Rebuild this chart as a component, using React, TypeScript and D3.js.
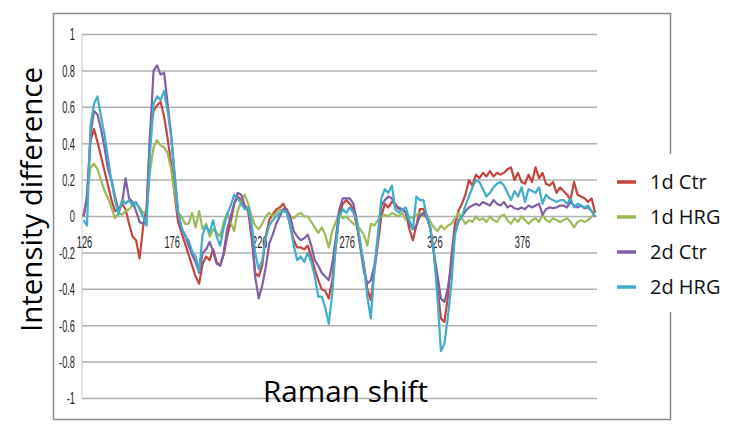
import React from 'react';
import * as d3 from 'd3';

// Raman shift categories (sampled every 2 units)
const shiftStart = 126;
const shiftEnd = 418;
const shiftStep = 2;
const ramanShift: number[] = d3.range(shiftStart, shiftEnd + 1, shiftStep);

const xTickLabels: number[] = [126, 176, 226, 276, 326, 376];
const yTickValues: number[] = [1, 0.8, 0.6, 0.4, 0.2, 0, -0.2, -0.4, -0.6, -0.8, -1];

const seriesNames: string[] = ['1d Ctr', '1d HRG', '2d Ctr', '2d HRG'];
const seriesColors: string[] = ['#C4453F', '#9BBB59', '#7F5FA6', '#40ADCB'];

const ctr1d: number[] = [
  0.0, 0.1, 0.42, 0.48, 0.41, 0.33, 0.25, 0.17, 0.09, 0.03,
  0.04, 0.07, 0.04, -0.04, -0.11, -0.13, -0.23, -0.06, 0.05, 0.45,
  0.58, 0.61, 0.63, 0.55, 0.43, 0.29, 0.12, -0.03, -0.09, -0.15,
  -0.21, -0.27, -0.33, -0.37, -0.26, -0.22, -0.24, -0.18, -0.25, -0.27,
  -0.21, -0.11, -0.03, 0.07, 0.11, 0.09, 0.06, 0.03, -0.12, -0.31,
  -0.33, -0.27, -0.11, -0.02, 0.01, 0.04, 0.05, 0.07, 0.03, -0.05,
  -0.13, -0.17, -0.17, -0.18, -0.16, -0.22, -0.29, -0.35, -0.40, -0.41,
  -0.45, -0.35, -0.16, 0.01, 0.07, 0.09, 0.07, 0.04, -0.05, -0.16,
  -0.26, -0.40, -0.46, -0.3, -0.15, 0.0, 0.07, 0.05, 0.08, 0.07,
  0.04, 0.04, 0.02, -0.07, -0.13, -0.05, 0.04, 0.04, 0.0, -0.07,
  -0.2, -0.38, -0.56, -0.58, -0.44, -0.22, -0.04, 0.03, 0.07, 0.12,
  0.2, 0.17, 0.23, 0.21, 0.24, 0.22, 0.25, 0.22, 0.24, 0.23,
  0.24, 0.26, 0.27, 0.2, 0.24, 0.19, 0.18, 0.23, 0.19, 0.27,
  0.21, 0.24, 0.18, 0.17, 0.19, 0.13, 0.16, 0.14, 0.12, 0.09,
  0.19, 0.12, 0.11, 0.1, 0.08, 0.1, 0.02,
];

const hrg1d: number[] = [
  0.0, 0.12, 0.27, 0.29, 0.26, 0.2, 0.14, 0.1, 0.05, -0.01,
  0.02, 0.01, 0.03, 0.04, 0.06, 0.07, 0.05, 0.02, 0.03, 0.25,
  0.38, 0.42, 0.39, 0.38, 0.35, 0.26, 0.13, 0.02, 0.0, -0.04,
  -0.04, 0.02, -0.06, 0.03, -0.07, -0.04, -0.11, -0.07, -0.09, -0.11,
  -0.03, 0.02, -0.03, -0.08, 0.03, 0.08, 0.12, 0.07, 0.0, -0.05,
  -0.07, -0.04, 0.0, 0.02, 0.0, 0.02, 0.04, 0.03, 0.04, 0.0,
  -0.01, 0.01, 0.02, 0.0, 0.0, -0.03, -0.06, -0.09, -0.06, -0.1,
  -0.17, -0.08, -0.03, 0.02, -0.01, 0.0, -0.02, -0.04, -0.05, -0.07,
  -0.1, -0.16, -0.04, -0.05, -0.02, 0.0, 0.01, 0.0, 0.02, 0.01,
  0.0, 0.02, -0.02, 0.0, -0.01, 0.01, 0.02, 0.0, 0.01, -0.03,
  -0.06, -0.08, -0.05, -0.07, -0.05, -0.04, -0.01, 0.02, -0.01, -0.04,
  -0.02, -0.03, 0.0, -0.02, -0.01, -0.03, 0.0, -0.02, -0.03, 0.0,
  0.01, -0.02, -0.04, -0.01, -0.03, 0.0, -0.02, -0.04, -0.02, -0.01,
  -0.03, 0.01, -0.02, -0.03, -0.01, -0.02, -0.03, -0.02, -0.01, -0.03,
  -0.06, -0.03, -0.02, -0.03, -0.02, 0.0, 0.01,
];

const ctr2d: number[] = [
  0.0, 0.1, 0.45, 0.58, 0.56, 0.48, 0.38, 0.26, 0.2, 0.11,
  0.03, 0.07, 0.21, 0.1, 0.08, 0.03, -0.03, -0.04, 0.0, 0.45,
  0.80, 0.83, 0.78, 0.79, 0.62, 0.45, 0.22, 0.02, -0.07, -0.10,
  -0.16, -0.21, -0.25, -0.31, -0.2, -0.18, -0.14, -0.19, -0.26, -0.27,
  -0.2, -0.07, 0.0, 0.07, 0.13, 0.12, 0.06, 0.04, -0.08, -0.33,
  -0.45, -0.38, -0.28, -0.15, -0.1, -0.04, 0.0, 0.04, 0.04, 0.0,
  -0.08, -0.11, -0.13, -0.12, -0.1, -0.16, -0.24, -0.27, -0.31, -0.33,
  -0.35, -0.26, -0.12, 0.04, 0.1, 0.1, 0.1, 0.07, -0.02, -0.17,
  -0.3, -0.37, -0.35, -0.27, -0.13, 0.06, 0.09, 0.11, 0.1, 0.05,
  0.05, 0.04, 0.02, -0.04, -0.07, -0.05, 0.0, 0.02, -0.01, -0.06,
  -0.2, -0.32, -0.45, -0.47, -0.39, -0.26, -0.08, -0.02, 0.0, 0.03,
  0.05, 0.06, 0.07, 0.06, 0.08, 0.07, 0.06, 0.09, 0.07, 0.06,
  0.08, 0.05, 0.06, 0.045, 0.04, 0.05, 0.04, 0.06, 0.05, 0.06,
  0.07, 0.01, 0.04, 0.05, 0.045, 0.05, 0.06, 0.06, 0.05, 0.08,
  0.06, 0.05, 0.06, 0.045, 0.05, 0.03, 0.0,
];

const hrg2d: number[] = [
  -0.02, -0.05, 0.50, 0.62, 0.66, 0.55, 0.45, 0.32, 0.19, 0.09,
  0.01, 0.09, 0.07, 0.09, 0.06, 0.08, 0.04, 0.0, -0.05, 0.35,
  0.62, 0.66, 0.64, 0.69, 0.58, 0.44, 0.24, 0.03, -0.06, -0.11,
  -0.13, -0.19, -0.22, -0.30, -0.1, -0.05, -0.09, -0.02, -0.11, -0.16,
  -0.06, 0.01, 0.06, 0.12, 0.1, 0.07, 0.04, 0.05, -0.04, -0.2,
  -0.29, -0.24, -0.12, -0.05, -0.02, 0.0, 0.02, 0.03, 0.02, -0.05,
  -0.16, -0.24, -0.22, -0.25, -0.2, -0.25, -0.33, -0.44, -0.44, -0.5,
  -0.59, -0.42, -0.16, 0.0, 0.04, 0.02, 0.05, 0.02, -0.02, -0.14,
  -0.27, -0.44, -0.56, -0.3, -0.1, 0.1, 0.15, 0.13, 0.17, 0.04,
  0.02, 0.04, 0.05, -0.02, -0.07, 0.11, 0.09, 0.09, 0.0, -0.07,
  -0.2, -0.44, -0.74, -0.7, -0.55, -0.37, -0.1, -0.03, 0.0, 0.06,
  0.11, 0.16, 0.2, 0.19, 0.15, 0.11, 0.13, 0.16, 0.18, 0.19,
  0.17, 0.13, 0.09, 0.14, 0.11, 0.16, 0.08, 0.15, 0.14, 0.13,
  0.16, 0.07, 0.12, 0.1, 0.09, 0.08, 0.09, 0.09, 0.07, 0.1,
  0.05, 0.07, 0.06, 0.05, 0.06, 0.03, 0.0,
];

const seriesValues: number[][] = [ctr1d, hrg1d, ctr2d, hrg2d];

const W = 732;
const H = 427;
const plotLeft = 82;
const plotRight = 597;

export default function App() {
  const x = d3.scaleLinear().domain([126, 418]).range([83.5, 83.5 + 292 * 1.752]);
  const y = d3.scaleLinear().domain([-1, 1]).range([398.5, 34.5]);
  const lineGen = d3
    .line<number>()
    .x((_, i) => x(ramanShift[i]))
    .y((d) => y(d));

  const tickFont = "'Liberation Sans', Arial, sans-serif";
  const titleFont = "'Open Sans', 'Noto Sans', sans-serif";

  return (
    <svg
      width={W}
      height={H}
      style={{ position: 'absolute', left: 0, top: 0, background: '#fff' }}
    >
      <rect x={0} y={0} width={W} height={H} fill="#fff" />
      {/* outer chart border */}
      <rect x={53.5} y={13.5} width={617} height={406} fill="none" stroke="#8a8a8a" strokeWidth={1.5} />

      {/* gridlines */}
      {yTickValues.map((t) => (
        <line
          key={'g' + t}
          x1={plotLeft}
          x2={plotRight}
          y1={y(t)}
          y2={y(t)}
          stroke="#b0b0b0"
          strokeWidth={1.5}
        />
      ))}
      <line x1={plotLeft} x2={plotLeft} y1={y(1)} y2={y(-1)} stroke="#c8c8c8" strokeWidth={1} />

      {/* y tick labels */}
      {yTickValues.map((t) => (
        <g key={'yl' + t} transform={`translate(75, ${y(t)}) scale(0.56, 1)`}>
          <text
            textAnchor="end"
            dy="0.36em"
            fontSize={16.5}
            fontFamily={tickFont}
            fill="#222"
          >
            {t === 0 ? '0' : String(t)}
          </text>
        </g>
      ))}

      {/* x tick labels */}
      {xTickLabels.map((v) => (
        <g key={'xl' + v} transform={`translate(${x(v) + 1}, 242.5) scale(0.56, 1)`}>
          <text textAnchor="middle" dy="0.36em" fontSize={16.5} fontFamily={tickFont} fill="#222">
            {v}
          </text>
        </g>
      ))}

      {/* series */}
      {seriesValues.map((vals, i) => (
        <path
          key={seriesNames[i]}
          d={lineGen(vals) || ''}
          fill="none"
          stroke={seriesColors[i]}
          strokeWidth={2.2}
          strokeLinejoin="round"
        />
      ))}

      {/* axis titles */}
      <text
        x={263}
        y={402}
        fontSize={30}
        fontFamily={titleFont}
        fill="#000"
        textLength={165}
        lengthAdjust="spacingAndGlyphs"
      >
        Raman shift
      </text>
      <text
        transform="translate(42, 332) rotate(-90)"
        x={0}
        y={0}
        fontSize={30}
        fontFamily={titleFont}
        fill="#000"
        textLength={265}
        lengthAdjust="spacingAndGlyphs"
      >
        Intensity difference
      </text>

      {/* legend */}
      <rect x={604} y={154} width={126} height={158} fill="#fff" />
      {seriesNames.map((name, i) => {
        const cy = 182 + i * 35;
        return (
          <g key={'lg' + name}>
            <line x1={617} x2={636} y1={cy} y2={cy} stroke={seriesColors[i]} strokeWidth={3.5} />
            <text x={650} y={cy} dy="0.35em" fontSize={20} fontFamily={titleFont} fill="#111">
              {name}
            </text>
          </g>
        );
      })}
    </svg>
  );
}
